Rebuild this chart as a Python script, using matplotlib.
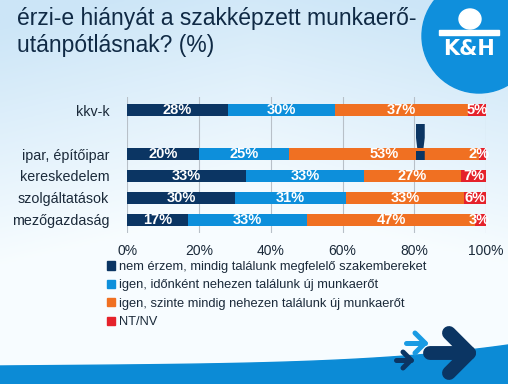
import numpy as np
import matplotlib
matplotlib.use("Agg")
import matplotlib.pyplot as plt
import matplotlib.patches as mpatches

# data
categories = ["kkv-k", "", "ipar, építőipar", "kereskedelem", "szolgáltatások", "mezőgazdaság"]
series_names = [
    "nem érzem, mindig találunk megfelelő szakembereket",
    "igen, időnként nehezen találunk új munkaerőt",
    "igen, szinte mindig nehezen találunk új munkaerőt",
    "NT/NV",
]
nem_erzem = [28, None, 20, 33, 30, 17]
idonkent = [30, None, 25, 33, 31, 33]
szinte_mindig = [37, None, 53, 27, 33, 47]
nt_nv = [5, None, 2, 7, 6, 3]
x_ticks = [0, 20, 40, 60, 80, 100]

COLORS = ["#0b3563", "#0d8fdb", "#f07022", "#e5222b"]
TEXT_C = "#1b2a3a"

plt.rcParams["font.family"] = ["Liberation Sans", "DejaVu Sans"]

fig = plt.figure(figsize=(5.08, 3.84), dpi=100)

# background gradient + bottom wave (pixel coords)
bg = fig.add_axes([0, 0, 1, 1], zorder=-10)
bg.set_xlim(0, 508)
bg.set_ylim(384, 0)
bg.axis("off")
yy = np.linspace(0, 1, 200)[:, None]
xx = np.linspace(0, 1, 200)[None, :]
top = np.array([0.80, 0.90, 0.97])
mid = np.array([0.97, 0.99, 1.0])
t = np.clip(yy * 1.6 + 0.25 * (1 - np.abs(xx - 0.5) * 2) - 0.1, 0, 1)[..., None]
img = top * (1 - t) + mid * t
bg.imshow(img, extent=[0, 508, 384, 0], aspect="auto", zorder=0)
wx = np.linspace(0, 508, 100)
wy = 366 - 4 * (wx / 508) - 17 * (wx / 508) ** 4
bg.fill_between(wx, wy, 384, color="#0c8bd6", zorder=1)

# logo
bg.add_patch(mpatches.Circle((479, 36), 57, color="#0f8fdc", zorder=2))
bg.add_patch(mpatches.Ellipse((470, 19), 22, 20, color="white", zorder=3))
bg.add_patch(mpatches.Rectangle((439, 30), 60, 5, color="white", zorder=3))
bg.text(469, 49, "K&H", color="white", fontsize=15, fontweight="bold",
        ha="center", va="center", zorder=4, family="DejaVu Sans")

# arrows
def arrow(x0, x1, y, h, lw, c):
    bg.plot([x0, x1], [y, y], color=c, lw=lw, solid_capstyle="round", zorder=3)
    bg.plot([x1 - h, x1, x1 - h], [y - h, y, y + h], color=c, lw=lw,
            solid_capstyle="round", solid_joinstyle="round", zorder=3)

arrow(406, 425, 343, 10, 3.6, "#1a9be3")
arrow(396, 411, 360, 8, 3.6, "#0b3563")
arrow(430, 469, 353, 20, 10, "#0b3563")

# title
fig.text(17 / 508, 1 - 7 / 384, "érzi-e hiányát a szakképzett munkaerő-\nutánpótlásnak? (%)",
         fontsize=16.5, color="#102a45", va="top", ha="left", linespacing=1.2)

ax = fig.add_axes([127.3 / 508, 1 - 233 / 384, (486 - 127.3) / 508, 136 / 384])
ax.patch.set_alpha(0)
ypos = np.arange(len(categories))
series = [nem_erzem, idonkent, szinte_mindig, nt_nv]
left = np.zeros(len(categories))
for vals, col, name in zip(series, COLORS, series_names):
    v = np.array([np.nan if x is None else x for x in vals], dtype=float)
    mask = ~np.isnan(v)
    bars = ax.barh(ypos[mask], v[mask], left=left[mask], height=0.56,
                   color=col, label=name, zorder=3)
    for b, val in zip(bars, v[mask]):
        cx = b.get_x() + b.get_width() / 2
        if val <= 3:
            cx = b.get_x() + b.get_width() - 1.8
        ax.text(cx, b.get_y() + b.get_height() / 2, f"{val:.0f}%",
                ha="center", va="center", color="white", fontsize=10.5,
                fontweight="bold", zorder=4)
    left[mask] += v[mask]

ax.set_xlim(0, 100)
ax.set_ylim(5.6, -0.6)
ax.set_xticks(x_ticks)
ax.set_xticklabels([f"{x}%" for x in x_ticks], fontsize=10, color=TEXT_C)
ax.set_yticks(ypos)
ax.set_yticklabels(categories, fontsize=10.3, color=TEXT_C)
ax.tick_params(length=0, pad=8)
ax.tick_params(axis="y", pad=13)
ax.grid(axis="x", color="#b8c0c8", lw=0.8, zorder=0)
for s in ax.spines.values():
    s.set_visible(False)

# big exclamation mark (mathtext keeps its box tight to the glyph)
ax.text(80.7, 2.72, r"$\mathbf{!}$", fontsize=36, color="#0b3563",
        ha="center", va="bottom", zorder=5)

handles = [mpatches.Patch(color=c) for c in COLORS]
leg = fig.legend(handles, series_names, loc="upper left",
                 bbox_to_anchor=(107 / 508, 1 - 261 / 384), frameon=False,
                 fontsize=9.3, handlelength=0.6, handleheight=0.6,
                 handletextpad=0.3, labelspacing=0.5, borderaxespad=0,
                 borderpad=0)
for txt in leg.get_texts():
    txt.set_color(TEXT_C)

fig.savefig("out.png", dpi=100)
